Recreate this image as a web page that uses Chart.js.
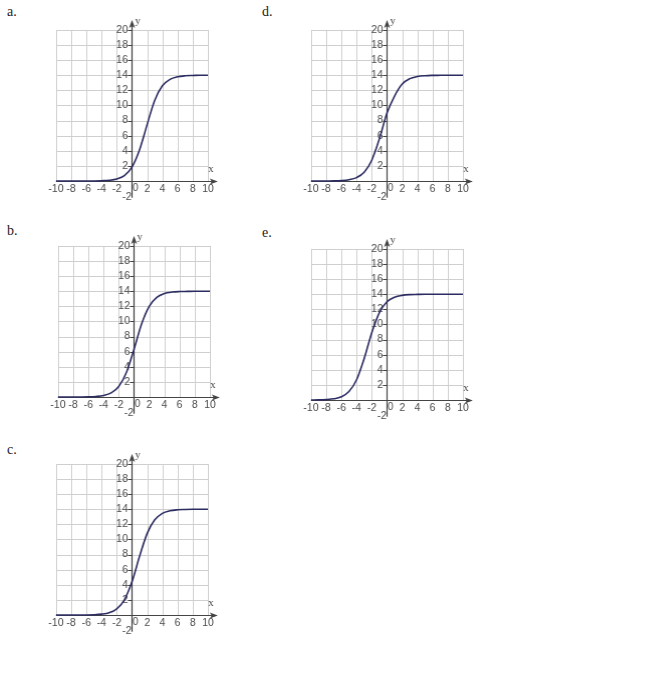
<!DOCTYPE html>
<html>
<head>
<meta charset="utf-8">
<script src="https://cdn.jsdelivr.net/npm/chart.js@4"></script>
<style>
  body { margin: 0; background: #fff; width: 653px; height: 690px; position: relative; overflow: hidden; }
  .lbl { position: absolute; font-family: "Liberation Serif", serif; font-size: 14px; color: #222; }
  .box { position: absolute; }
</style>
</head>
<body>
<div class="lbl" style="left:7px;top:4px">a.</div>
<div class="lbl" style="left:262px;top:4px">d.</div>
<div class="lbl" style="left:7px;top:223px">b.</div>
<div class="lbl" style="left:262px;top:225px">e.</div>
<div class="lbl" style="left:7px;top:442px">c.</div>

<div class="box" id="boxA"><canvas id="chartA"></canvas></div>
<div class="box" id="boxD"><canvas id="chartD"></canvas></div>
<div class="box" id="boxB"><canvas id="chartB"></canvas></div>
<div class="box" id="boxE"><canvas id="chartE"></canvas></div>
<div class="box" id="boxC"><canvas id="chartC"></canvas></div>

<script>
const xs = [-10, -9, -8, -7, -6, -5, -4, -3, -2, -1, 0, 1, 2, 3, 4, 5, 6, 7, 8, 9, 10];

// curve values
const yA = [0, 0, 0, 0, 0, 0.01, 0.04, 0.1, 0.27, 0.72, 1.84, 4.13, 7.5, 10.7, 12.6, 13.46, 13.8, 13.93, 13.97, 14, 14];
const yB = [0, 0, 0, 0.01, 0.03, 0.08, 0.21, 0.55, 1.4, 3.24, 6.3, 9.66, 12.0, 13.2, 13.7, 13.89, 13.96, 13.98, 14, 14, 14];
const yC = [0, 0, 0, 0, 0.01, 0.04, 0.12, 0.31, 0.82, 2.02, 4.4, 7.77, 10.8, 12.6, 13.46, 13.8, 13.93, 13.97, 13.99, 14, 14];
const yD = [0, 0, 0.01, 0.02, 0.06, 0.17, 0.45, 1.16, 2.75, 5.58, 9.0, 11.25, 12.84, 13.55, 13.83, 13.94, 13.98, 13.99, 14, 14, 14];
const yE = [0.01, 0.02, 0.06, 0.16, 0.43, 1.12, 2.68, 5.49, 8.91, 11.57, 13.0, 13.6, 13.85, 13.95, 13.98, 14, 14, 14, 14, 14, 14];

const xTicks = [-10, -8, -6, -4, -2, 2, 4, 6, 8, 10];
const yTicks = [2, 4, 6, 8, 10, 12, 14, 16, 18, 20];

const U = 7.62;              // pixels per unit
const X_MIN = -12, X_MAX = 12, Y_MIN = -3, Y_MAX = 22;

const gridColor = '#cfcfcf';
const axisColor = '#444';
const tickColor = '#4a4a4a';
const curveColor = '#2c2c62';

const axesPlugin = {
  id: 'axesGrid',
  beforeDatasetsDraw(chart) {
    const { ctx, scales: { x, y } } = chart;
    ctx.save();
    // grid
    ctx.strokeStyle = gridColor;
    ctx.lineWidth = 1;
    for (let v = -10; v <= 10; v += 2) {
      const px = Math.round(x.getPixelForValue(v)) + 0.5;
      ctx.beginPath();
      ctx.moveTo(px, y.getPixelForValue(0));
      ctx.lineTo(px, y.getPixelForValue(20));
      ctx.stroke();
    }
    for (let v = 0; v <= 20; v += 2) {
      const py = Math.round(y.getPixelForValue(v)) + 0.5;
      ctx.beginPath();
      ctx.moveTo(x.getPixelForValue(-10), py);
      ctx.lineTo(x.getPixelForValue(10), py);
      ctx.stroke();
    }
    // axes
    const ox = Math.round(x.getPixelForValue(0)) + 0.5;
    const oy = Math.round(y.getPixelForValue(0)) + 0.5;
    const xEnd = x.getPixelForValue(11.3);
    const yEnd = y.getPixelForValue(21.3);
    ctx.strokeStyle = axisColor;
    ctx.fillStyle = axisColor;
    ctx.lineWidth = 1.2;
    ctx.beginPath();
    ctx.moveTo(x.getPixelForValue(-10), oy);
    ctx.lineTo(xEnd - 4, oy);
    ctx.moveTo(ox, y.getPixelForValue(-2.2));
    ctx.lineTo(ox, yEnd + 4);
    ctx.stroke();
    ctx.beginPath();
    ctx.moveTo(xEnd, oy);
    ctx.lineTo(xEnd - 8, oy - 3);
    ctx.lineTo(xEnd - 6, oy);
    ctx.lineTo(xEnd - 8, oy + 3);
    ctx.closePath();
    ctx.fill();
    ctx.beginPath();
    ctx.moveTo(ox, yEnd);
    ctx.lineTo(ox - 3, yEnd + 8);
    ctx.lineTo(ox, yEnd + 6);
    ctx.lineTo(ox + 3, yEnd + 8);
    ctx.closePath();
    ctx.fill();

    // tick labels
    ctx.font = '10.5px "Liberation Sans", Arial, sans-serif';
    ctx.fillStyle = tickColor;
    ctx.textBaseline = 'middle';
    ctx.textAlign = 'right';
    ctx.lineWidth = 1;
    yTicks.forEach(v => {
      const py = y.getPixelForValue(v);
      ctx.fillText(String(v), ox - 4, py);
      ctx.beginPath();
      ctx.moveTo(ox - 4, Math.round(py) + 0.5);
      ctx.lineTo(ox, Math.round(py) + 0.5);
      ctx.stroke();
    });
    ctx.fillText('-2', ox - 0.5, y.getPixelForValue(-2.1));
    ctx.textAlign = 'center';
    xTicks.forEach(v => {
      ctx.fillText(String(v), x.getPixelForValue(v), oy + 8);
    });
    ctx.textAlign = 'left';
    ctx.fillText('0', ox + 0.5, oy + 7);

    // axis names
    ctx.font = '11px "Liberation Serif", serif';
    ctx.textAlign = 'center';
    ctx.fillText('x', x.getPixelForValue(10.4), y.getPixelForValue(1.6));
    ctx.textAlign = 'left';
    ctx.fillText('y', ox + 3, y.getPixelForValue(21.2));
    ctx.restore();
  }
};

function makePanel(boxId, canvasId, gridLeft, gridTop, ys) {
  const box = document.getElementById(boxId);
  box.style.left = (gridLeft - (-10 - X_MIN) * U) + 'px';
  box.style.top = (gridTop - (Y_MAX - 20) * U) + 'px';
  box.style.width = ((X_MAX - X_MIN) * U) + 'px';
  box.style.height = ((Y_MAX - Y_MIN) * U) + 'px';
  new Chart(document.getElementById(canvasId), {
    type: 'line',
    data: {
      datasets: [{
        data: xs.map((v, i) => ({ x: v, y: ys[i] })),
        borderColor: curveColor,
        borderWidth: 1.6,
        pointRadius: 0,
        fill: false,
        cubicInterpolationMode: 'monotone'
      }]
    },
    options: {
      responsive: true,
      maintainAspectRatio: false,
      animation: false,
      layout: { padding: 0 },
      scales: {
        x: { type: 'linear', min: X_MIN, max: X_MAX, display: false },
        y: { min: Y_MIN, max: Y_MAX, display: false }
      },
      plugins: { legend: { display: false }, tooltip: { enabled: false } }
    },
    plugins: [axesPlugin]
  });
}

makePanel('boxA', 'chartA', 55, 29, yA);
makePanel('boxD', 'chartD', 310, 29, yD);
makePanel('boxB', 'chartB', 57, 245, yB);
makePanel('boxE', 'chartE', 310, 248, yE);
makePanel('boxC', 'chartC', 55, 463, yC);
</script>
</body>
</html>
